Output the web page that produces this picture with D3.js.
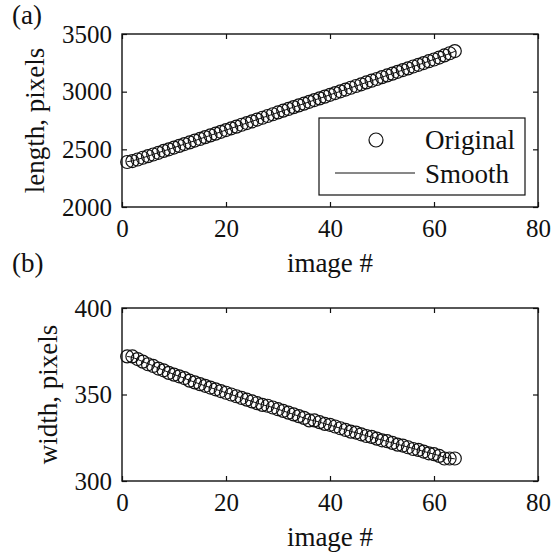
<!DOCTYPE html>
<html><head><meta charset="utf-8">
<script src="https://cdn.jsdelivr.net/npm/d3@7"></script>
<style>
html,body{margin:0;padding:0;background:#fff;}
text{font-family:"Liberation Serif","Times New Roman",serif;fill:#111;}
</style></head>
<body>
<svg id="chart" width="551" height="558"></svg>
<script>
// ---- data ----
const imageNumbers = d3.range(1, 65);
const lengthOriginal = [2390,2398,2412,2427,2441,2455,2470,2486,2500,2515,2530,2546,2560,2576,2590,2606,2621,2636,2652,2667,2682,2697,2713,2728,2743,2758,2774,2789,2804,2820,2835,2850,2866,2881,2896,2912,2927,2942,2957,2973,2988,3003,3018,3034,3049,3064,3080,3095,3110,3126,3141,3156,3172,3187,3202,3218,3233,3248,3264,3279,3296,3314,3333,3352];
const lengthSmooth = [2393,2400,2413,2427,2441,2456,2471,2486,2500,2515,2530,2545,2560,2575,2591,2606,2621,2636,2652,2667,2682,2697,2713,2728,2743,2758,2774,2789,2804,2820,2835,2850,2866,2881,2896,2912,2927,2942,2957,2973,2988,3003,3018,3034,3049,3064,3080,3095,3110,3126,3141,3156,3172,3187,3202,3218,3233,3248,3264,3280,3296,3313,3331,3349];
const widthOriginal = [372,372,370.5,369,367.5,366.5,365,364,362.5,361.5,360.5,359.5,358,357,356,355,354,353,352,351,350,349,348,347,346,345,344,343.5,342.5,341.5,340.5,339.5,338.5,337.5,336.5,335,335,334,333,332.5,331.5,330.5,329.5,328.5,328,327,326,325.5,324.5,323.5,323,322,321,320.5,319.5,318.5,318,317,316,315.5,314.5,313,313,313];
const widthSmooth = [372,371.5,370.3,369,367.8,366.6,365.3,364,362.8,361.6,360.5,359.4,358.2,357.1,356,355,354,353,352,351,350,349,348,347,346,345,344.1,343.3,342.5,341.5,340.5,339.5,338.5,337.5,336.4,335.5,334.8,334,333.1,332.3,331.4,330.5,329.6,328.7,327.9,327,326.2,325.4,324.5,323.7,322.9,322.1,321.2,320.4,319.6,318.8,318,317.1,316.3,315.5,314.7,313.8,313.2,312.8];
const xTicks = [0,20,40,60,80];
const lengthTicks = [2000,2500,3000,3500];
const widthTicks = [300,350,400];
const legendLabels = ["Original","Smooth"];

const svg = d3.select("#chart");
svg.append("rect").attr("width",551).attr("height",558).attr("fill","#fff");

const L = 122, R = 538;
const x = d3.scaleLinear().domain([0,80]).range([L,R]);

function panel(top, bottom, yDomain, yTicks, orig, smooth, ylabel, tag, ylabelX, tagY, legend) {
  const y = d3.scaleLinear().domain(yDomain).range([bottom, top]);
  const g = svg.append("g");
  const tl = 5;
  g.append("g").attr("transform",`translate(0,${bottom})`)
    .call(d3.axisBottom(x).tickValues(xTicks).tickSizeInner(-tl).tickSizeOuter(0).tickPadding(12))
    .call(s=>{s.select(".domain").remove(); s.selectAll("text").attr("font-size",25).attr("fill","#111").attr("font-family","Liberation Serif");});
  g.append("g").attr("transform",`translate(0,${top})`)
    .call(d3.axisTop(x).tickValues(xTicks).tickSizeInner(-tl).tickSizeOuter(0).tickFormat(""))
    .call(s=>s.select(".domain").remove());
  g.append("g").attr("transform",`translate(${L},0)`)
    .call(d3.axisLeft(y).tickValues(yTicks).tickSizeInner(-tl).tickSizeOuter(0).tickPadding(10).tickFormat(d3.format("d")))
    .call(s=>{s.select(".domain").remove(); s.selectAll("text").attr("font-size",25).attr("fill","#111").attr("font-family","Liberation Serif");});
  g.append("g").attr("transform",`translate(${R},0)`)
    .call(d3.axisRight(y).tickValues(yTicks).tickSizeInner(-tl).tickSizeOuter(0).tickFormat(""))
    .call(s=>s.select(".domain").remove());
  g.selectAll(".tick line").attr("stroke","#111").attr("stroke-width",1.2);
  g.append("rect").attr("x",L).attr("y",top).attr("width",R-L).attr("height",bottom-top)
    .attr("fill","none").attr("stroke","#111").attr("stroke-width",1.4);

  g.append("g").selectAll("circle").data(orig).join("circle")
    .attr("cx",(d,i)=>x(imageNumbers[i])).attr("cy",d=>y(d)).attr("r",6.5)
    .attr("fill","none").attr("stroke","#111").attr("stroke-width",1.2);
  g.append("path").datum(smooth)
    .attr("d", d3.line().x((d,i)=>x(imageNumbers[i])).y(d=>y(d)))
    .attr("fill","none").attr("stroke","#111").attr("stroke-width",1);

  g.append("text").attr("transform",`translate(${ylabelX},${(top+bottom)/2}) rotate(-90)`)
    .attr("text-anchor","middle").attr("font-size",27).text(ylabel);
  g.append("text").attr("x",(L+R)/2).attr("y",bottom+65).attr("text-anchor","middle")
    .attr("font-size",27).text("image #");
  g.append("text").attr("x",12).attr("y",tagY).attr("font-size",27).text(tag);

  if (legend) {
    const lg = g.append("g");
    lg.append("rect").attr("x",319).attr("y",118).attr("width",206).attr("height",77)
      .attr("fill","#fff").attr("stroke","#111").attr("stroke-width",1.2);
    lg.append("circle").attr("cx",376).attr("cy",140).attr("r",7)
      .attr("fill","none").attr("stroke","#111").attr("stroke-width",1.2);
    lg.append("line").attr("x1",335).attr("x2",415).attr("y1",173).attr("y2",173)
      .attr("stroke","#111").attr("stroke-width",1);
    lg.append("text").attr("x",425).attr("y",149).attr("font-size",27).text(legendLabels[0]);
    lg.append("text").attr("x",425).attr("y",183).attr("font-size",27).text(legendLabels[1]);
  }
}

panel(34, 207, [2000,3500], lengthTicks, lengthOriginal, lengthSmooth, "length, pixels", "(a)", 44, 24, true);
panel(308, 481, [300,400], widthTicks, widthOriginal, widthSmooth, "width, pixels", "(b)", 57, 272, false);
</script>
</body></html>
